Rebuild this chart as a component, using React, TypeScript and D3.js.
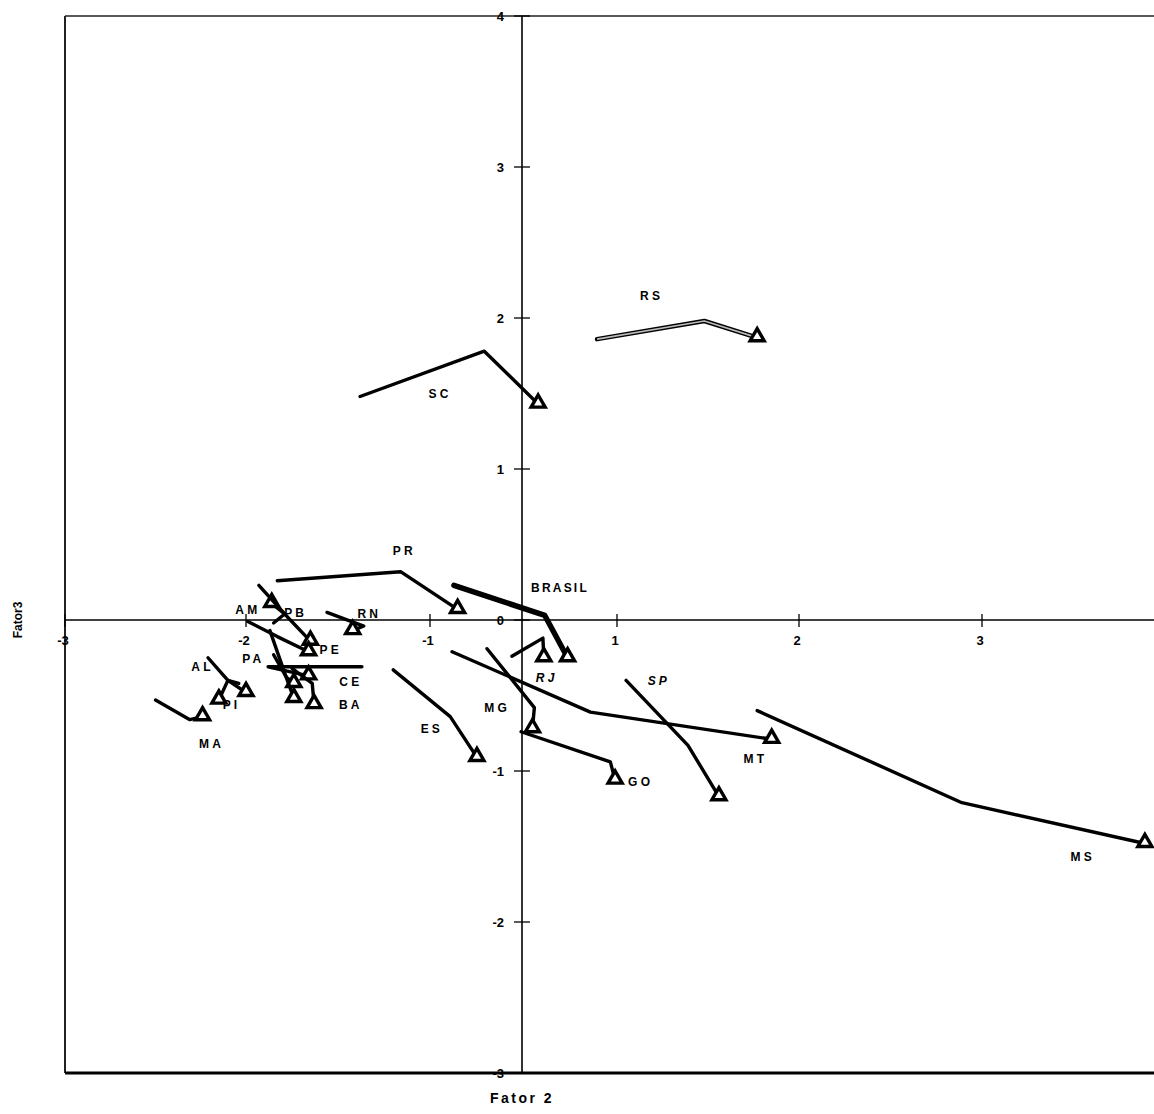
import React from "react";
import * as d3 from "d3";

// trajectories: three periods per state, last point gets the triangle
const states = ["RS", "SC", "PR", "BRASIL", "RJ", "MG", "GO", "ES", "MT", "SP", "MS",
  "AM", "PB", "PE", "RN", "PA", "CE", "BA", "SE", "AL", "PI", "MA"];

const fator2 = [
  [0.79, 1.48, 1.77],
  [-1.38, -0.41, 0.17],
  [-1.83, -1.16, -0.7],
  [-0.74, 0.24, 0.48],
  [-0.11, 0.22, 0.23],
  [-0.38, 0.13, 0.11],
  [-0.01, 0.93, 0.98],
  [-1.2, -0.78, -0.49],
  [-0.76, 0.72, 1.85],
  [1.05, 1.39, 1.56],
  [1.77, 2.89, 3.89],
  [-1.85, -1.79, -1.86],
  [-1.93, -1.79, -1.65],
  [-1.99, -1.83, -1.66],
  [-1.56, -1.36, -1.42],
  [-1.85, -1.78, -1.74],
  [-1.37, -1.88, -1.66],
  [-1.75, -1.64, -1.63],
  [-1.87, -1.79, -1.74],
  [-2.21, -2.1, -2.0],
  [-2.04, -2.1, -2.15],
  [-2.5, -2.31, -2.24],
];

const fator3 = [
  [1.86, 1.98, 1.87],
  [1.48, 1.78, 1.43],
  [0.26, 0.32, 0.07],
  [0.23, 0.03, -0.25],
  [-0.24, -0.12, -0.25],
  [-0.19, -0.58, -0.72],
  [-0.74, -0.94, -1.06],
  [-0.33, -0.64, -0.91],
  [-0.21, -0.61, -0.79],
  [-0.4, -0.83, -1.17],
  [-0.6, -1.21, -1.48],
  [-0.02, 0.04, 0.11],
  [0.23, 0.04, -0.14],
  [-0.01, -0.11, -0.21],
  [0.05, -0.04, -0.07],
  [-0.23, -0.38, -0.42],
  [-0.31, -0.31, -0.37],
  [-0.32, -0.42, -0.56],
  [-0.07, -0.35, -0.52],
  [-0.25, -0.4, -0.48],
  [-0.42, -0.4, -0.53],
  [-0.53, -0.66, -0.64],
];

// label anchors (data units)
const labelText = ["RS", "SC", "PR", "BRASIL", "RJ", "MG", "GO", "ES", "MT", "SP", "MS",
  "AM", "PB", "PE", "RN", "PA", "CE", "BA", "AL", "PI", "MA"];
const labelX = [1.19, -0.89, -1.14, 0.4, 0.26, -0.27, 1.13, -0.98, 1.76, 1.23, 3.55,
  -1.99, -1.73, -1.54, -1.33, -1.96, -1.43, -1.43, -2.24, -2.08, -2.19];
const labelY = [2.15, 1.5, 0.46, 0.21, -0.38, -0.58, -1.07, -0.72, -0.92, -0.4, -1.57,
  0.07, 0.05, -0.2, 0.04, -0.26, -0.41, -0.56, -0.31, -0.56, -0.82];
const italicLabels = ["RJ", "SP"];

const xTicks = [-3, -2, -1, 1, 2, 3];
const yTicks = [-3, -2, -1, 0, 1, 2, 3, 4];

const W = 1154;
const H = 1114;
const left = 65;
const right = 1154;
const top = 16;
const bottom = 1073;

// the printed axis is not evenly spaced, so the scale follows its tick marks
const x = d3.scaleLinear()
  .domain([-3, -2, -1, 0, 1, 2, 3, 4])
  .range([left, 246, 430, 522, 617, 799, 982, 1165]);
const y = d3.scaleLinear().domain([-3, 4]).range([bottom, top]);

const line = d3.line<[number, number]>().x((d) => x(d[0])).y((d) => y(d[1]));
const tri = d3.symbol().type(d3.symbolTriangle).size(85);

const font = "'Liberation Sans', Arial, sans-serif";

export default function App() {
  return (
    <svg width={W} height={H} style={{ position: "absolute", left: 0, top: 0, background: "#fff" }}
      fontFamily={font}>
      {/* frame */}
      <line x1={left} y1={top} x2={right} y2={top} stroke="#222" strokeWidth={1.5} />
      <line x1={left} y1={top} x2={left} y2={bottom} stroke="#222" strokeWidth={2} />
      <line x1={left} y1={bottom} x2={right} y2={bottom} stroke="#000" strokeWidth={3} />

      {/* axes through zero */}
      <line x1={left} y1={y(0)} x2={right} y2={y(0)} stroke="#000" strokeWidth={1.6} />
      <line x1={x(0)} y1={top} x2={x(0)} y2={bottom} stroke="#000" strokeWidth={1.6} />

      {xTicks.map((t) => (
        <g key={"xt" + t}>
          <line x1={x(t)} x2={x(t)} y1={y(0) - 6} y2={y(0) + 7} stroke="#000" strokeWidth={1.3} />
          <text x={x(t) - 2} y={y(0) + 25} textAnchor="middle" fontSize={13} fontWeight="bold">{t}</text>
        </g>
      ))}
      {yTicks.map((t) => (
        <g key={"yt" + t}>
          <line x1={x(0) - 8} x2={x(0) + 8} y1={y(t)} y2={y(t)} stroke="#000" strokeWidth={1.3} />
          <text x={x(0) - 18} y={y(t)} dy="0.35em" textAnchor="end" fontSize={13} fontWeight="bold">{t}</text>
        </g>
      ))}

      {/* trajectories */}
      {states.map((s, i) => {
        const pts: [number, number][] = fator2[i].map((v, j) => [v, fator3[i][j]]);
        const last = pts[pts.length - 1];
        const isRS = s === "RS";
        const isBR = s === "BRASIL";
        return (
          <g key={s}>
            <path d={line(pts) || ""} fill="none" stroke="#000"
              strokeWidth={isBR ? 5.5 : isRS ? 4.5 : 3.4} strokeLinejoin="round" strokeLinecap="round" />
            {isRS && (
              <path d={line(pts) || ""} fill="none" stroke="#bbb" strokeWidth={1.6} strokeLinejoin="round" />
            )}
            <path d={tri() || ""} transform={`translate(${x(last[0])},${y(last[1]) - 1})`}
              fill="#fff" stroke="#000" strokeWidth={3.4} strokeLinejoin="miter" />
          </g>
        );
      })}

      {/* state labels */}
      {labelText.map((t, i) => (
        <text key={"lb" + t} x={x(labelX[i])} y={y(labelY[i])} dy="0.35em" textAnchor="middle"
          fontSize={12} fontWeight="bold" letterSpacing={t === "BRASIL" ? 2.2 : 3.2}
          fontStyle={italicLabels.includes(t) ? "italic" : "normal"}>
          {t}
        </text>
      ))}

      {/* axis titles */}
      <text x={522} y={1098} dy="0.35em" textAnchor="middle" fontSize={14} fontWeight="bold" letterSpacing={2.5}>
        Fator 2
      </text>
      <text transform={`translate(18,${y(0)}) rotate(-90)`} textAnchor="middle" dy="0.35em"
        fontSize={12} fontWeight="bold">
        Fator3
      </text>
    </svg>
  );
}
